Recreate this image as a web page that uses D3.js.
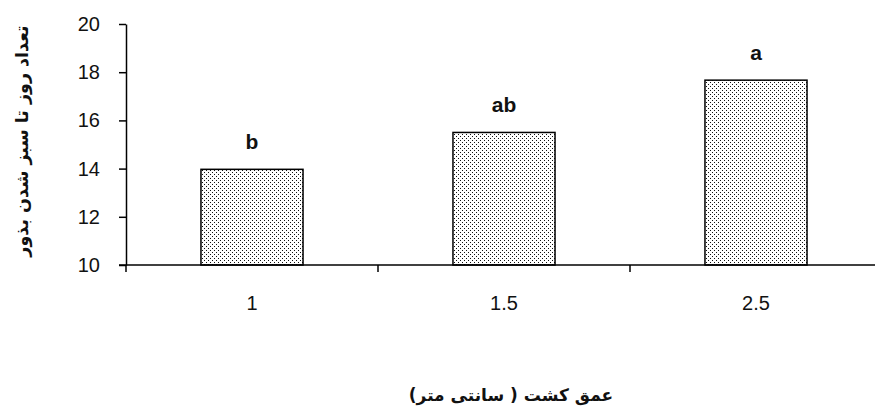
<!DOCTYPE html>
<html>
<head>
<meta charset="utf-8">
<script src="https://cdn.jsdelivr.net/npm/d3@7"></script>
<style>
  html, body { margin: 0; padding: 0; background: #fff; }
  svg { display: block; }
</style>
</head>
<body>
<svg id="chart" width="875" height="410"></svg>
<script>
// ---- data ----
const categories = ["1", "1.5", "2.5"];
const values = [13.97, 15.5, 17.67];
const letters = ["b", "ab", "a"];
const yTicks = [10, 12, 14, 16, 18, 20];
const yTitle = "تعداد روز تا سبز شدن بذور";
const xTitle = "عمق کشت ( سانتی متر)";

// ---- layout ----
const svg = d3.select("#chart");
const mLeft = 126, mRight = 882, mTop = 24, mBottom = 265;

const x = d3.scaleBand().domain(categories).range([mLeft, mRight]).padding(0);
const y = d3.scaleLinear().domain([10, 20]).range([mBottom, mTop]);
const barW = x.bandwidth() * 0.405;

// dotted pattern
const defs = svg.append("defs");
const pat = defs.append("pattern")
  .attr("id", "dots").attr("patternUnits", "userSpaceOnUse")
  .attr("width", 4).attr("height", 4);
pat.append("rect").attr("width", 4).attr("height", 4).attr("fill", "#fff");
pat.append("rect").attr("x", 0).attr("y", 0).attr("width", 1).attr("height", 1).attr("fill", "#111");
pat.append("rect").attr("x", 2).attr("y", 2).attr("width", 1).attr("height", 1).attr("fill", "#111");

// bars
svg.append("g").selectAll("rect")
  .data(values)
  .join("rect")
  .attr("x", (d, i) => x(categories[i]) + x.bandwidth() / 2 - barW / 2)
  .attr("y", d => y(d))
  .attr("width", barW)
  .attr("height", d => y(10) - y(d))
  .attr("fill", "url(#dots)")
  .attr("stroke", "#000")
  .attr("stroke-width", 1.5);

// letters above bars
svg.append("g").selectAll("text")
  .data(values)
  .join("text")
  .attr("x", (d, i) => x(categories[i]) + x.bandwidth() / 2)
  .attr("y", d => y(d) - 20)
  .attr("text-anchor", "middle")
  .attr("font-family", "Liberation Sans, Arial, sans-serif")
  .attr("font-weight", "bold")
  .attr("font-size", 21)
  .attr("fill", "#111")
  .text((d, i) => letters[i]);

// y axis
const yAxis = svg.append("g")
  .attr("transform", `translate(${mLeft},0)`)
  .call(d3.axisLeft(y).tickValues(yTicks).tickSize(7).tickSizeOuter(0).tickPadding(19));
yAxis.select(".domain").attr("stroke", "#000").attr("stroke-width", 1.5);
yAxis.selectAll(".tick line").attr("stroke", "#000").attr("stroke-width", 1.5);
yAxis.selectAll(".tick text")
  .attr("font-family", "Liberation Sans, Arial, sans-serif")
  .attr("font-size", 20).attr("fill", "#111");

// x axis (labels centered on bars)
const xAxis = svg.append("g")
  .attr("transform", `translate(0,${mBottom})`)
  .call(d3.axisBottom(x).tickSize(0).tickSizeOuter(0).tickPadding(31));
xAxis.select(".domain").remove();
xAxis.selectAll(".tick text")
  .attr("font-family", "Liberation Sans, Arial, sans-serif")
  .attr("font-size", 20).attr("fill", "#111");

// x axis line and boundary ticks
svg.append("line")
  .attr("x1", mLeft - 7).attr("x2", mRight)
  .attr("y1", mBottom).attr("y2", mBottom)
  .attr("stroke", "#000").attr("stroke-width", 1.5);
svg.append("g").selectAll("line")
  .data(categories)
  .join("line")
  .attr("x1", d => x(d)).attr("x2", d => x(d))
  .attr("y1", mBottom).attr("y2", mBottom + 7)
  .attr("stroke", "#000").attr("stroke-width", 1.5);

// titles
svg.append("text")
  .attr("transform", `translate(28,141) rotate(-90)`)
  .attr("direction", "rtl")
  .attr("text-anchor", "middle")
  .attr("font-family", "DejaVu Sans, sans-serif")
  .attr("font-weight", "bold")
  .attr("font-size", 17.5)
  .attr("fill", "#111")
  .text(yTitle);

svg.append("text")
  .attr("x", 511).attr("y", 401)
  .attr("direction", "rtl")
  .attr("text-anchor", "middle")
  .attr("font-family", "DejaVu Sans, sans-serif")
  .attr("font-weight", "bold")
  .attr("font-size", 17)
  .attr("fill", "#111")
  .text(xTitle);
</script>
</body>
</html>
